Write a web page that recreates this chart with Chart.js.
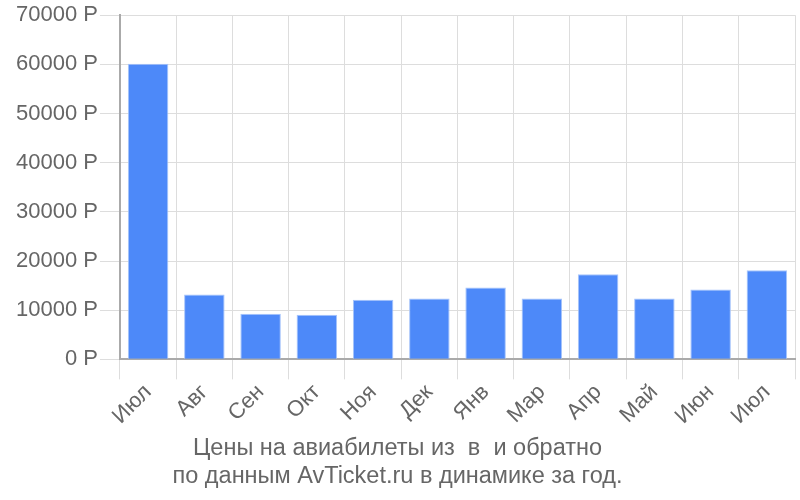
<!DOCTYPE html>
<html>
<head>
<meta charset="utf-8">
<script src="https://cdn.jsdelivr.net/npm/chart.js@4/dist/chart.umd.min.js"></script>
<style>
  html, body { margin: 0; padding: 0; background: #fff; }
  #wrap { width: 800px; height: 500px; }
</style>
</head>
<body>
<div id="wrap"><canvas id="price-chart"></canvas></div>
<script>
const months = ['Июл', 'Авг', 'Сен', 'Окт', 'Ноя', 'Дек', 'Янв', 'Мар', 'Апр', 'Май', 'Июн', 'Июл'];
const prices = [60100, 13200, 9250, 9050, 12100, 12400, 14600, 12400, 17300, 12400, 14200, 18100];
const titleLines = ['Цены на авиабилеты из  в  и обратно', 'по данным AvTicket.ru в динамике за год.'];

Chart.defaults.font.family = '"Liberation Sans", Arial, sans-serif';
Chart.defaults.color = '#666';

const priceChart = new Chart(document.getElementById('price-chart'), {
  type: 'bar',
  data: {
    labels: months,
    datasets: [{
      label: 'Цена',
      data: prices,
      backgroundColor: '#4d89f9',
      borderColor: '#a6c4fb',
      borderWidth: 1
    }]
  },
  options: {
    responsive: true,
    maintainAspectRatio: false,
    animation: false,
    layout: { padding: { top: 8, right: 5, left: 0, bottom: 9 } },
    plugins: {
      legend: { display: false },
      tooltip: { enabled: false },
      title: {
        display: true,
        position: 'bottom',
        text: titleLines,
        color: '#666',
        font: { size: 23.5, weight: 'normal' },
        lineHeight: 1.25,
        padding: { top: 5, bottom: 0 }
      }
    },
    scales: {
      x: {
        grid: { color: '#ddd', tickLength: 20, tickColor: '#ddd' },
        border: { color: '#aaa', width: 2 },
        ticks: { font: { size: 22 }, maxRotation: 45, minRotation: 45, padding: 0 }
      },
      y: {
        min: 0,
        max: 70000,
        grid: { color: '#ddd', tickLength: 20 },
        border: { color: '#aaa', width: 2 },
        afterFit: scale => { scale.width += 14; },
        ticks: {
          stepSize: 10000,
          font: { size: 22 },
          padding: 2,
          callback: v => v + ' Р'
        }
      }
    }
  }
});
</script>
</body>
</html>
